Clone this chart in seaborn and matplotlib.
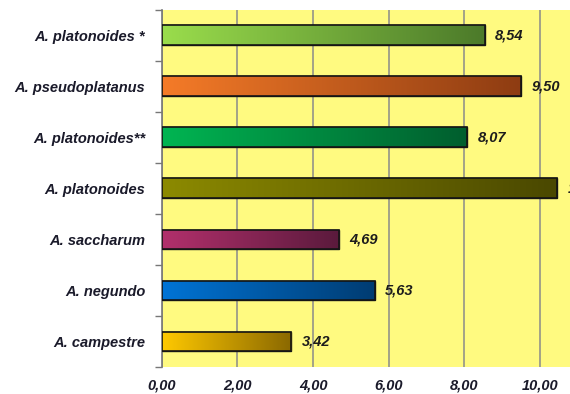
import numpy as np
import pandas as pd
import matplotlib
matplotlib.use("Agg")
import matplotlib.pyplot as plt
from matplotlib.colors import LinearSegmentedColormap
import seaborn as sns

species = ["A. platonoides *", "A. pseudoplatanus", "A. platonoides**",
           "A. platonoides", "A. saccharum", "A. negundo", "A. campestre"]
values = [8.54, 9.50, 8.07, 10.45, 4.69, 5.63, 3.42]
value_labels = ["8,54", "9,50", "8,07", "10,45", "4,69", "5,63", "3,42"]
x_ticks = [0, 2, 4, 6, 8, 10]
x_tick_labels = ["0,00", "2,00", "4,00", "6,00", "8,00", "10,00"]

# light -> dark end of each bar's horizontal gradient
grad_start = ["#9ADD4C", "#F57B28", "#00B552", "#8C8A00", "#B2306C", "#0074D6", "#FFC900"]
grad_end = ["#4C7A2A", "#8E3C12", "#005E2E", "#4A4800", "#5A1A3C", "#003C72", "#8A6800"]

df = pd.DataFrame({"species": species, "value": values})

sns.set_theme(style="white")
plt.rcParams["font.family"] = ["Liberation Sans", "DejaVu Sans"]

fig = plt.figure(figsize=(5.7, 3.94), dpi=100)
ax = fig.add_axes([0.284, 0.0685, 0.716, 0.9065])
ax.set_facecolor("#FFFA80")

sns.barplot(data=df, y="species", x="value", orient="h", width=0.39,
            color="white", edgecolor="#1a1a1a", linewidth=1.0, ax=ax, zorder=3)

ax.set_xlim(0, 10.8)
ax.set_ylim(6.5, -0.5)

# fill each bar with its gradient, clipped to the bar outline
grad = np.linspace(0, 1, 256).reshape(1, -1)
for i, patch in enumerate(ax.patches):
    x0, y0 = patch.get_x(), patch.get_y()
    w, h = patch.get_width(), patch.get_height()
    cmap = LinearSegmentedColormap.from_list(f"g{i}", [grad_start[i], grad_end[i]])
    im = ax.imshow(grad, cmap=cmap, aspect="auto", extent=[x0, x0 + w, y0 + h, y0],
                   zorder=3.5, interpolation="bilinear")
    im.set_clip_path(patch)
    outline = plt.Rectangle((x0, y0), w, h, fill=False, edgecolor="#141414",
                            linewidth=1.2, zorder=4)
    ax.add_patch(outline)
    ax.text(x0 + w + 0.28, y0 + h / 2, value_labels[i], va="center", ha="left",
            fontsize=10.5, fontweight="bold", fontstyle="italic", color="#1c1c1c",
            zorder=5, clip_on=False)

ax.set_xticks(x_ticks)
ax.set_xticklabels(x_tick_labels, fontsize=10.5, fontweight="bold",
                   fontstyle="italic", color="#1a1a2a")
ax.set_yticks(range(len(species)))
ax.set_yticklabels(species, fontsize=10.5, fontweight="bold",
                   fontstyle="italic", color="#1a1a2a")
ax.set_yticks(np.arange(-0.5, 7.0, 1.0), minor=True)
ax.tick_params(axis="y", which="major", length=0, pad=12)
ax.tick_params(axis="y", which="minor", length=5, width=1, color="#777777", left=True)
ax.tick_params(axis="x", length=0, pad=8)
ax.set_xlabel("")
ax.set_ylabel("")

ax.grid(axis="x", color="#8a8a8a", linewidth=1.1, zorder=1)
ax.grid(axis="y", visible=False)
ax.set_axisbelow(True)
for side in ["top", "right", "bottom"]:
    ax.spines[side].set_visible(False)
ax.spines["left"].set_color("#777777")
ax.spines["left"].set_linewidth(1.2)

fig.savefig("out.png", dpi=100)
